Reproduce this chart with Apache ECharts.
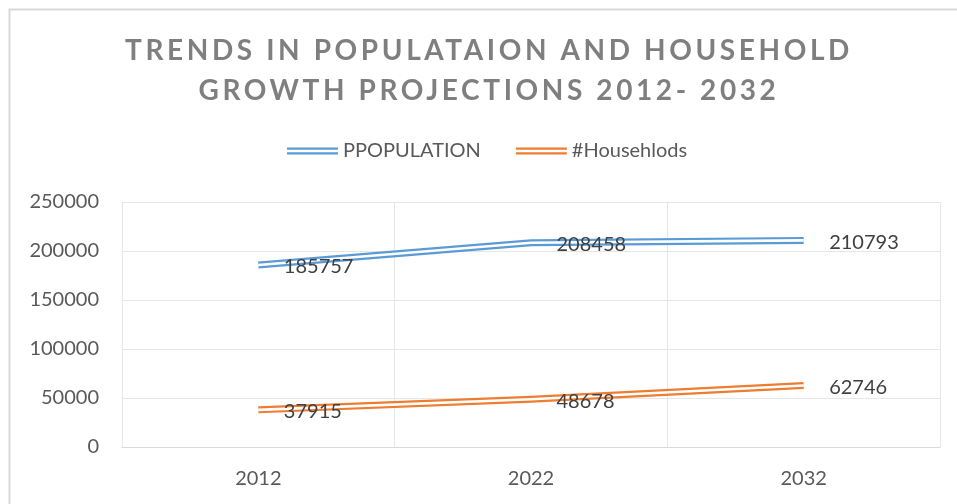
<!DOCTYPE html>
<html>
<head>
<meta charset="utf-8">
<title>Trends in Population and Household Growth Projections 2012-2032</title>
<script src="https://cdn.jsdelivr.net/npm/echarts@6/dist/echarts.min.js"></script>
<style>
  html, body { margin: 0; padding: 0; background: #ffffff; }
  #main { width: 957px; height: 504px; }
</style>
</head>
<body>
<div id="main"></div>
<script>
// ---- data ----
const years = ['2012', '2022', '2032'];
const population = [185757, 208458, 210793];
const households = [37915, 48678, 62746];
const yMin = 0;
const yMax = 250000;
const yStep = 50000;

const seriesNames = ['PPOPULATION', '#Househlods'];
const seriesColors = ['#5b9bd5', '#ed7d31'];

const FONT = 'Lato, "Open Sans", sans-serif';

// Spaced-out capitals for the bold heading: canvas letterSpacing applied only to bold text.
(function () {
  const proto = CanvasRenderingContext2D.prototype;
  const baseFill = proto.fillText;
  proto.fillText = function (text, x, y, maxWidth) {
    if (/bold/.test(this.font) && 'letterSpacing' in this) {
      const prev = this.letterSpacing;
      this.letterSpacing = '3.6px';
      const r = maxWidth === undefined ? baseFill.call(this, text, x, y) : baseFill.call(this, text, x, y, maxWidth);
      this.letterSpacing = prev;
      return r;
    }
    return maxWidth === undefined ? baseFill.call(this, text, x, y) : baseFill.call(this, text, x, y, maxWidth);
  };
})();

// Double-stroke line: a wide coloured stroke with a thin white core drawn over it.
function doubleLine(name, values, color) {
  return [
    {
      name: name,
      type: 'line',
      data: values,
      symbol: 'none',
      silent: true,
      z: 2,
      lineStyle: { color: color, width: 7, cap: 'butt', join: 'miter' },
      itemStyle: { color: color }
    },
    {
      name: name + ' core',
      type: 'line',
      data: values,
      symbol: 'circle',
      symbolSize: 1,
      showSymbol: true,
      silent: true,
      z: 3,
      lineStyle: { color: '#ffffff', width: 2.6, cap: 'butt', join: 'miter' },
      itemStyle: { color: '#ffffff', borderWidth: 0 },
      label: {
        show: true,
        position: 'right',
        distance: 25,
        offset: [0, 2],
        color: '#404040',
        fontFamily: FONT,
        fontSize: 20
      }
    }
  ];
}

const chart = echarts.init(document.getElementById('main'), null, { renderer: 'canvas' });

chart.setOption({
  animation: false,
  backgroundColor: '#ffffff',
  graphic: [{
    type: 'rect',
    silent: true,
    z: -10,
    shape: { x: 9.5, y: 9.5, width: 1000, height: 600 },
    style: { fill: 'none', stroke: '#d9d9d9', lineWidth: 2 }
  }],
  title: {
    text: 'TRENDS IN POPULATAION AND HOUSEHOLD\nGROWTH PROJECTIONS 2012- 2032',
    left: 489,
    top: 31,
    textAlign: 'center',
    padding: 0,
    textStyle: {
      color: '#7f7f7f',
      fontFamily: FONT,
      fontWeight: 'bold',
      fontSize: 28,
      lineHeight: 40
    }
  },
  legend: {
    left: 287,
    top: 141,
    padding: 0,
    itemWidth: 51,
    itemHeight: 7,
    itemGap: 35,
    icon: 'path://M0,0H51V2.2H0Z M0,4.8H51V7H0Z',
    itemStyle: { borderWidth: 0 },
    textStyle: { color: '#595959', fontFamily: FONT, fontSize: 20 },
    data: seriesNames.map((n, i) => ({ name: n, itemStyle: { color: seriesColors[i] } }))
  },
  grid: { left: 122, right: 17, top: 202, bottom: 57 },
  xAxis: {
    type: 'category',
    data: years,
    boundaryGap: true,
    axisLine: { show: true, lineStyle: { color: '#d9d9d9', width: 1 } },
    axisTick: { show: false },
    axisLabel: { color: '#595959', fontFamily: FONT, fontSize: 20, margin: 22 },
    splitLine: { show: true, lineStyle: { color: '#e6e6e6', width: 1 } }
  },
  yAxis: {
    type: 'value',
    min: yMin,
    max: yMax,
    interval: yStep,
    axisLine: { show: false },
    axisTick: { show: false },
    axisLabel: {
      color: '#595959', fontFamily: FONT, fontSize: 20, margin: 23,
      formatter: v => String(v)
    },
    splitLine: { show: true, lineStyle: { color: '#e6e6e6', width: 1 } }
  },
  series: [].concat(
    doubleLine(seriesNames[0], population, seriesColors[0]),
    doubleLine(seriesNames[1], households, seriesColors[1])
  )
});
</script>
</body>
</html>
